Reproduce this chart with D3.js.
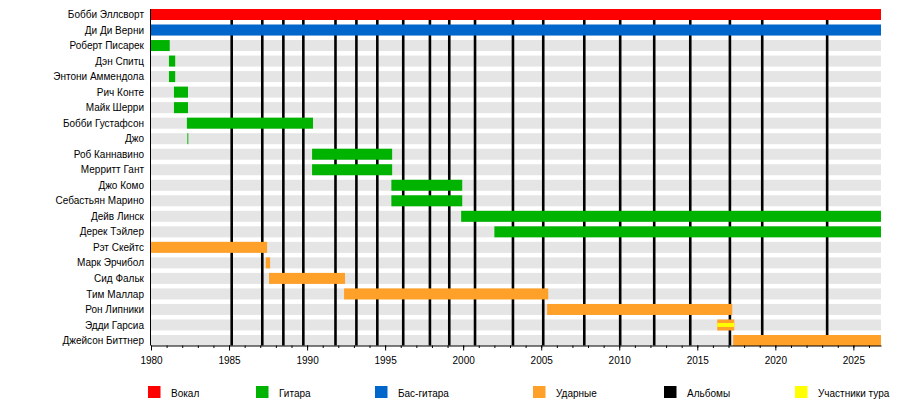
<!DOCTYPE html>
<html>
<head>
<meta charset="utf-8">
<script src="https://cdn.jsdelivr.net/npm/d3@7/dist/d3.min.js"></script>
<style>
  body { margin: 0; background: #fff; }
  svg text { font-family: "Liberation Sans", Arial, sans-serif; fill: #000; }
</style>
</head>
<body>
<script>
// band members, top to bottom
const names = [
  "Бобби Эллсворт", "Ди Ди Верни", "Роберт Писарек", "Дэн Спитц",
  "Энтони Аммендола", "Рич Конте", "Майк Шерри", "Бобби Густафсон", "Джо",
  "Роб Каннавино", "Мерритт Гант", "Джо Комо", "Себастьян Марино",
  "Дейв Линск", "Дерек Тэйлер", "Рэт Скейтс", "Марк Эрчибол", "Сид Фальк",
  "Тим Маллар", "Рон Липники", "Эдди Гарсиа", "Джейсон Биттнер"
];
const roles = [
  "vocals", "bass", "guitar", "guitar", "guitar", "guitar", "guitar", "guitar", "guitar",
  "guitar", "guitar", "guitar", "guitar", "guitar", "guitar",
  "drums", "drums", "drums", "drums", "drums", "drums", "drums"
];
const END = 2026.77;
const startYear = [1980, 1980, 1980, 1981.15, 1981.15, 1981.47, 1981.47, 1982.3, 1982.33,
  1990.32, 1990.32, 1995.4, 1995.4, 1999.87, 2002.0,
  1980, 1987.35, 1987.56, 1992.37, 2005.38, 2016.28, 2017.3];
const endYear = [END, END, 1981.2, 1981.55, 1981.55, 1982.37, 1982.37, 1990.38, 1982.39,
  1995.45, 1995.45, 1999.94, 1999.94, END, END,
  1987.44, 1987.63, 1992.43, 2005.45, 2017.24, 2017.37, END];
// touring members (drawn with a yellow stripe)
const touring = ["Эдди Гарсиа"];

// studio album release dates
const albums = [1985.17, 1987.13, 1988.48, 1989.76, 1991.82, 1993.16, 1994.5, 1996.16,
  1997.87, 1999.11, 2000.76, 2003.19, 2005.13, 2007.76, 2010.06, 2012.24, 2014.55,
  2017.09, 2019.16, 2023.32];

const legendKeys = ["vocals", "guitar", "bass", "drums", "albums", "tour"];
const legendLabels = ["Вокал", "Гитара", "Бас-гитара", "Ударные", "Альбомы", "Участники тура"];

const colors = {
  vocals: "#ff0000",
  guitar: "#00b300",
  bass: "#0066cc",
  drums: "#ffa028",
  albums: "#000000",
  tour: "#ffff00"
};

const width = 900;
const height = 404;
const left = 151;
const right = 881;
const barH = 11;

const x = d3.scaleLinear().domain([1980, END]).range([left, right]);
const y = d3.scalePoint().domain(names).range([14.5, 340.5]);
const plotTop = y(names[0]) - barH / 2;
const plotBottom = 345.5;

const svg = d3.select("body")
  .append("svg")
  .attr("width", width)
  .attr("height", height);

// grey row backgrounds
svg.append("g")
  .selectAll("rect")
  .data(names)
  .join("rect")
  .attr("x", left)
  .attr("y", (d) => y(d) - barH / 2)
  .attr("width", right - left)
  .attr("height", barH)
  .attr("fill", "#e5e5e5");

// album lines (behind bars)
svg.append("g")
  .selectAll("line")
  .data(albums)
  .join("line")
  .attr("x1", (d) => x(d))
  .attr("x2", (d) => x(d))
  .attr("y1", plotTop)
  .attr("y2", plotBottom)
  .attr("stroke", colors.albums)
  .attr("stroke-width", 2.6);

// member bars
const bars = svg.append("g")
  .selectAll("g")
  .data(names)
  .join("g");

bars.append("rect")
  .attr("x", (d, i) => x(startYear[i]))
  .attr("y", (d) => y(d) - barH / 2)
  .attr("width", (d, i) => x(endYear[i]) - x(startYear[i]))
  .attr("height", barH)
  .attr("fill", (d, i) => colors[roles[i]]);

bars.filter((d) => touring.includes(d))
  .append("rect")
  .attr("x", (d) => x(startYear[names.indexOf(d)]))
  .attr("y", (d) => y(d) - 2)
  .attr("width", (d) => x(endYear[names.indexOf(d)]) - x(startYear[names.indexOf(d)]))
  .attr("height", 4)
  .attr("fill", colors.tour);

// member names
svg.append("g")
  .selectAll("text")
  .data(names)
  .join("text")
  .attr("x", left - 7)
  .attr("y", (d) => y(d) + 3.6)
  .attr("text-anchor", "end")
  .attr("font-size", 10)
  .text((d) => d);

// left frame line
svg.append("line")
  .attr("x1", left - 0.5)
  .attr("x2", left - 0.5)
  .attr("y1", plotTop)
  .attr("y2", plotBottom)
  .attr("stroke", "#000");

// time axis
const minor = svg.append("g")
  .attr("transform", `translate(0,${plotBottom})`)
  .call(d3.axisBottom(x).tickValues(d3.range(1980, 2027)).tickSize(2.5).tickFormat("").tickSizeOuter(0));
minor.select(".domain").remove();

svg.append("g")
  .attr("transform", `translate(0,${plotBottom})`)
  .call(d3.axisBottom(x).tickValues(d3.range(1980, 2026, 5)).tickSize(5).tickSizeOuter(0).tickFormat(d3.format("d")))
  .call((g) => g.selectAll("text").attr("font-size", 10).attr("dy", "1.05em"))
  .call((g) => g.select(".domain").attr("stroke", "#000"));

// legend
const legendX = [148, 256, 375, 533, 664, 795];
const legend = svg.append("g")
  .selectAll("g")
  .data(legendKeys)
  .join("g")
  .attr("transform", (d, i) => `translate(${legendX[i]},386)`);

legend.append("rect")
  .attr("width", 12.5)
  .attr("height", 12)
  .attr("fill", (d) => colors[d]);

legend.append("text")
  .attr("x", 23)
  .attr("y", 11)
  .attr("font-size", 10)
  .text((d, i) => legendLabels[i]);
</script>
</body>
</html>
